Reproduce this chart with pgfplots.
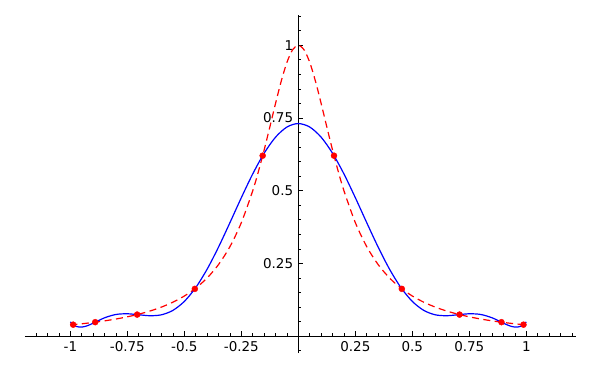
\documentclass[border=0pt]{standalone}
\usepackage{pgfplots}
\pgfplotsset{compat=1.18}
\usepackage{fontspec}
\setmainfont{DejaVu Sans}
\begin{document}
\begin{tikzpicture}
\begin{axis}[
 scale only axis, width=551pt, height=338pt,
 axis lines=middle, axis line style={-, black, line width=0.8pt},
 xmin=-1.199, xmax=1.218, ymin=-0.058, ymax=1.104,
 xtick={-1,-0.75,-0.5,-0.25,0.25,0.5,0.75,1},
 xticklabels={-1,-0.75,-0.5,-0.25,0.25,0.5,0.75,1},
 ytick={0.25,0.5,0.75,1}, yticklabels={0.25,0.5,0.75,1},
 minor xtick={-1.15,-1.1,-1.05,-0.95,-0.9,-0.85,-0.8,-0.7,-0.65,-0.6,-0.55,-0.45,-0.4,-0.35,-0.3,-0.2,-0.15,-0.1,-0.05,0.05,0.1,0.15,0.2,0.3,0.35,0.4,0.45,0.55,0.6,0.65,0.7,0.8,0.85,0.9,0.95,1.05,1.1,1.15,1.2},
 minor ytick={-0.05,0.05,0.1,0.15,0.2,0.3,0.35,0.4,0.45,0.55,0.6,0.65,0.7,0.8,0.85,0.9,0.95,1.05,1.1},
 tick align=inside,
 major tick length=5pt, minor tick length=2.8pt,
 tick style={black, line width=0.7pt},
 ticklabel style={font=\fontsize{13.5}{16}\selectfont},
 xticklabel style={anchor=north, inner sep=0pt, yshift=-5pt},
 yticklabel style={anchor=east, inner sep=0pt, xshift=-5pt},
 clip=false,
]
\addplot[only marks, mark=*, mark size=3pt, red] coordinates {
(-0.987688,0.039388) (-0.891007,0.047968) (-0.707107,0.074074) (-0.453990,0.162531) (-0.156434,0.620424)
(0.156434,0.620424) (0.453990,0.162531) (0.707107,0.074074) (0.891007,0.047968) (0.987688,0.039388)};
\addplot[red, line width=1.2pt, dash pattern=on 7pt off 4.5pt, smooth] coordinates {
(-1,0.038462) (-0.95,0.042440) (-0.9,0.047059) (-0.85,0.052459) (-0.8,0.058824) (-0.75,0.066390)
(-0.7,0.075472) (-0.65,0.086486) (-0.6,0.1) (-0.55,0.116788) (-0.5,0.137931) (-0.45,0.164948)
(-0.4,0.2) (-0.35,0.246154) (-0.3,0.307692) (-0.25,0.390244) (-0.2,0.5) (-0.175,0.566372)
(-0.15,0.64) (-0.125,0.719101) (-0.1,0.8) (-0.075,0.876712) (-0.05,0.941176) (-0.025,0.984615)
(0,1)
(0.025,0.984615) (0.05,0.941176) (0.075,0.876712) (0.1,0.8) (0.125,0.719101) (0.15,0.64)
(0.175,0.566372) (0.2,0.5) (0.25,0.390244) (0.3,0.307692) (0.35,0.246154) (0.4,0.2)
(0.45,0.164948) (0.5,0.137931) (0.55,0.116788) (0.6,0.1) (0.65,0.086486) (0.7,0.075472)
(0.75,0.066390) (0.8,0.058824) (0.85,0.052459) (0.9,0.047059) (0.95,0.042440) (1,0.038462)};
\addplot[blue, line width=1.2pt, smooth] coordinates {
(-1,0.04882) (-0.975,0.03364) (-0.95,0.03108) (-0.925,0.03592) (-0.9,0.04452) (-0.85,0.06300)
(-0.8,0.07448) (-0.75,0.07687) (-0.7,0.07345) (-0.65,0.07015) (-0.6,0.07339) (-0.55,0.08862)
(-0.5,0.11937) (-0.45,0.16694) (-0.4,0.23028) (-0.35,0.30627) (-0.3,0.39015) (-0.25,0.47605)
(-0.2,0.55766) (-0.15,0.62879) (-0.1,0.68395) (-0.05,0.71887) (0,0.73082)
(0.05,0.71887) (0.1,0.68395) (0.15,0.62879) (0.2,0.55766) (0.25,0.47605) (0.3,0.39015)
(0.35,0.30627) (0.4,0.23028) (0.45,0.16694) (0.5,0.11937) (0.55,0.08862) (0.6,0.07339)
(0.65,0.07015) (0.7,0.07345) (0.75,0.07687) (0.8,0.07448) (0.85,0.06300) (0.9,0.04452)
(0.925,0.03592) (0.95,0.03108) (0.975,0.03364) (1,0.04882)};
\end{axis}
\path (current axis.south west) ++(-25pt,-17pt);
\path (current axis.north east) ++(24pt,15pt);
\end{tikzpicture}
\end{document}
